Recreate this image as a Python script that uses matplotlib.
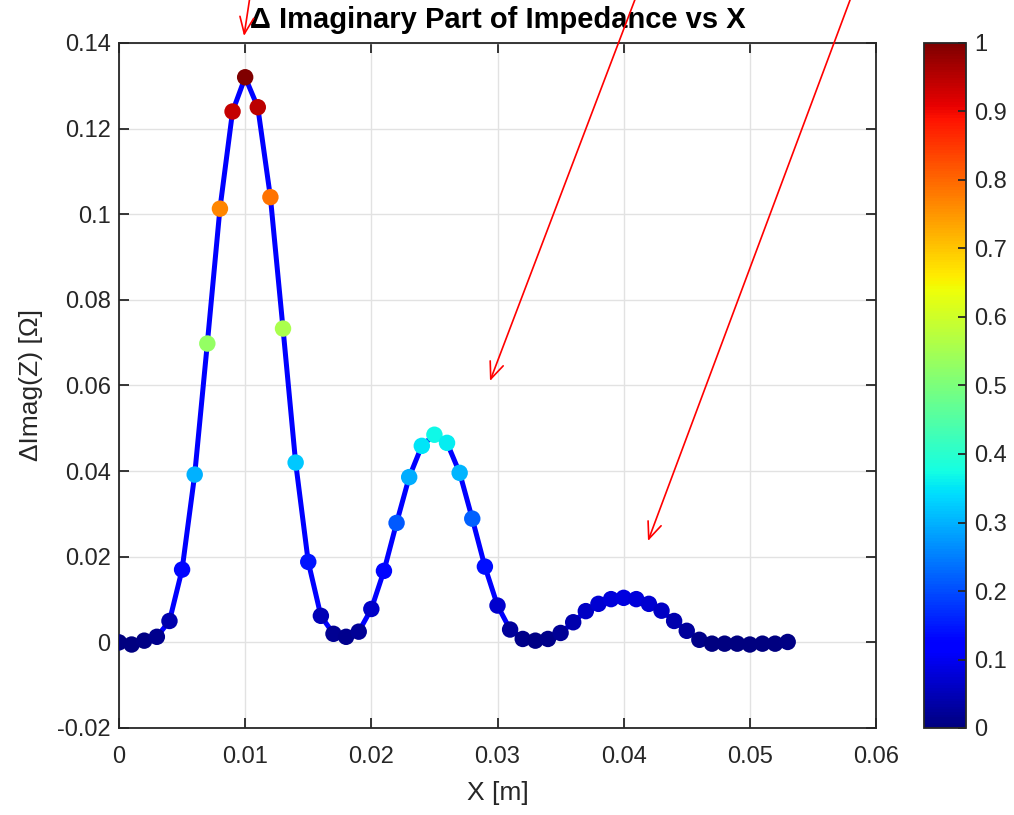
import numpy as np
import matplotlib
matplotlib.use('Agg')
from matplotlib import pyplot as plt
from matplotlib.patches import FancyArrowPatch
from matplotlib.ticker import FuncFormatter

plt.rcParams['font.family'] = ['Liberation Sans', 'DejaVu Sans']
plt.rcParams['axes.unicode_minus'] = False

# data
x = np.arange(54) * 0.001
dimag = [0.0, -0.0005, 0.0004, 0.0013, 0.005, 0.017, 0.0392, 0.0698, 0.1013, 0.124,
         0.132, 0.125, 0.104, 0.0733, 0.042, 0.0188, 0.0062, 0.002, 0.0013, 0.0025,
         0.0078, 0.0167, 0.0279, 0.0386, 0.0459, 0.0485, 0.0466, 0.0396, 0.0289, 0.0177,
         0.0086, 0.003, 0.0008, 0.0004, 0.0008, 0.0022, 0.0047, 0.0073, 0.009, 0.0101,
         0.0104, 0.0101, 0.009, 0.0074, 0.005, 0.0027, 0.0006, -0.0003, -0.0003, -0.0003,
         -0.0005, -0.0003, -0.0003, 0.0001]
xticks = [0, 0.01, 0.02, 0.03, 0.04, 0.05, 0.06]
yticks = [-0.02, 0, 0.02, 0.04, 0.06, 0.08, 0.1, 0.12, 0.14]
cticks = [0, 0.1, 0.2, 0.3, 0.4, 0.5, 0.6, 0.7, 0.8, 0.9, 1]

y = np.array(dimag)
cval = (y - y.min()) / (y.max() - y.min())

W, H = 1014, 815
fig = plt.figure(figsize=(W / 100, H / 100), dpi=100)
ax = fig.add_axes([119 / W, 1 - 728 / H, 757 / W, 685 / H])
cax = fig.add_axes([924 / W, 1 - 728 / H, 42 / W, 685 / H])

dark = '#262626'
ax.plot(x, y, color='#0000ff', lw=3.6, zorder=2)
sc = ax.scatter(x, y, c=cval, cmap='jet', vmin=0, vmax=1, s=140, edgecolors='none', zorder=3)

ax.set_xlim(0, 0.06)
ax.set_ylim(-0.02, 0.14)
ax.set_xticks(xticks)
ax.set_yticks(yticks)
fmt = FuncFormatter(lambda v, p: '%g' % round(v, 4))
ax.xaxis.set_major_formatter(fmt)
ax.yaxis.set_major_formatter(fmt)
ax.grid(True, color='#e2e2e2', lw=1)
ax.set_axisbelow(True)
ax.tick_params(direction='in', length=7, width=1.3, colors=dark, labelsize=17,
               top=True, right=True)
ax.tick_params(axis='x', pad=13)
ax.tick_params(axis='y', pad=6)
for s in ax.spines.values():
    s.set_color(dark)
    s.set_linewidth(1.3)
ax.set_xlabel('X [m]', fontsize=19, color=dark, labelpad=9)
ax.set_ylabel('ΔImag(Z) [Ω]', fontsize=19, color=dark, labelpad=10)
ax.set_title('Δ Imaginary Part of Impedance vs X', fontsize=21, fontweight='bold', pad=11)

cb = fig.colorbar(sc, cax=cax, ticks=cticks)
cb.ax.yaxis.set_major_formatter(fmt)
cb.ax.tick_params(direction='in', length=6, width=1.3, colors=dark, labelsize=17, pad=6)
cb.outline.set_edgecolor(dark)
cb.outline.set_linewidth(1.3)

# red annotation arrows (tails start above the figure)
arrows = [((254, -30), (244, 36)), ((650, -40), (490, 381)), ((865, -40), (648, 541))]
for (x0, y0), (x1, y1) in arrows:
    a = FancyArrowPatch((x0 / W, 1 - y0 / H), (x1 / W, 1 - y1 / H), transform=fig.transFigure,
                        arrowstyle='->,head_length=12,head_width=5', color='red', lw=1.2,
                        shrinkA=0, shrinkB=0)
    fig.add_artist(a)

fig.savefig('out.png', dpi=100)
